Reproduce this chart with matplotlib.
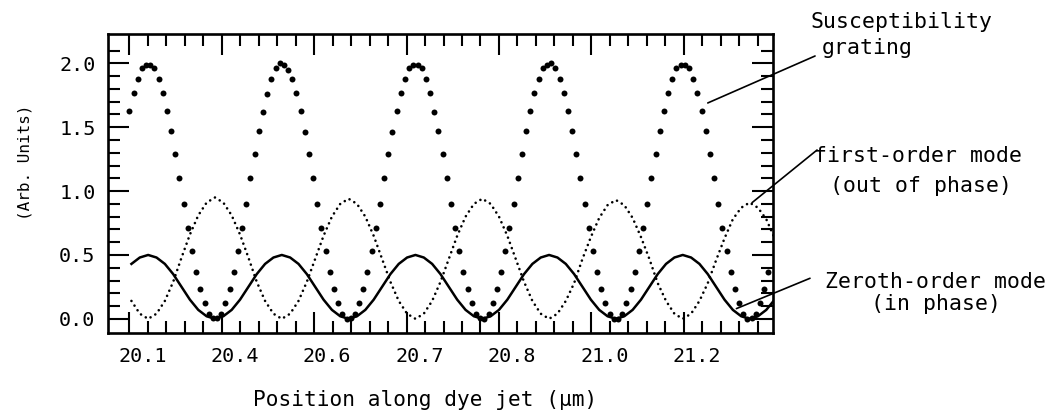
import numpy as np
import matplotlib.pyplot as plt
from matplotlib.ticker import FixedLocator, FormatStrFormatter
from matplotlib.transforms import ScaledTranslation

plt.rcParams['font.family'] = ['DejaVu Sans Mono', 'DejaVu Sans']

# major tick positions along the jet and the labels printed under them
tick_pos = [0, 1, 2, 3, 4, 5, 6]
tick_labels = ['20.1', '20.4', '20.6', '20.7', '20.8', '21.0', '21.2']

# susceptibility grating, one dot every grating_dx
grating_x0 = 0.0
grating_dx = 0.0452
grating = [
    1.63, 1.77, 1.88, 1.96, 1.99, 1.99, 1.96, 1.88, 1.77, 1.63, 1.47, 1.29, 1.10, 0.90, 0.71, 0.53,
    0.37, 0.23, 0.12, 0.04, 0.01, 0.01, 0.04, 0.12, 0.23, 0.37, 0.53, 0.71, 0.90, 1.10, 1.29, 1.47,
    1.62, 1.76, 1.88, 1.96, 2.00, 1.99, 1.95, 1.88, 1.77, 1.63, 1.46, 1.29, 1.10, 0.90, 0.71, 0.53,
    0.37, 0.23, 0.12, 0.04, 0.00, 0.01, 0.04, 0.12, 0.23, 0.37, 0.53, 0.71, 0.90, 1.10, 1.29, 1.46,
    1.63, 1.77, 1.88, 1.96, 1.99, 1.99, 1.96, 1.88, 1.77, 1.62, 1.47, 1.29, 1.10, 0.90, 0.71, 0.53,
    0.37, 0.23, 0.12, 0.04, 0.01, 0.00, 0.04, 0.12, 0.23, 0.37, 0.53, 0.71, 0.90, 1.10, 1.29, 1.47,
    1.63, 1.77, 1.88, 1.96, 1.99, 2.00, 1.96, 1.88, 1.77, 1.63, 1.47, 1.29, 1.10, 0.90, 0.71, 0.53,
    0.37, 0.23, 0.12, 0.04, 0.00, 0.00, 0.04, 0.12, 0.23, 0.37, 0.53, 0.71, 0.90, 1.10, 1.29, 1.47,
    1.63, 1.77, 1.88, 1.96, 1.99, 1.99, 1.96, 1.88, 1.77, 1.63, 1.47, 1.29, 1.10, 0.90, 0.71, 0.53,
    0.37, 0.23, 0.12, 0.04, 0.00, 0.01, 0.04, 0.12, 0.23, 0.37,
]

# mode intensities, sampled every mode_dx
mode_x0 = 0.0227
mode_dx = 0.0904
zeroth = [
    0.43, 0.48, 0.50, 0.48, 0.43, 0.35, 0.25, 0.15, 0.07, 0.02, 0.00, 0.02, 0.07, 0.15, 0.25, 0.35,
    0.43, 0.48, 0.50, 0.48, 0.43, 0.35, 0.25, 0.15, 0.07, 0.02, 0.00, 0.02, 0.07, 0.15, 0.25, 0.35,
    0.43, 0.48, 0.50, 0.48, 0.43, 0.35, 0.25, 0.15, 0.07, 0.02, 0.00, 0.02, 0.07, 0.15, 0.25, 0.35,
    0.43, 0.48, 0.50, 0.48, 0.43, 0.35, 0.25, 0.15, 0.07, 0.02, 0.00, 0.02, 0.07, 0.15, 0.25, 0.35,
    0.43, 0.48, 0.50, 0.48, 0.43, 0.35, 0.25, 0.15, 0.07, 0.02, 0.00, 0.02, 0.07, 0.15,
]
first = [
    0.14, 0.04, 0.00, 0.04, 0.14, 0.29, 0.48, 0.66, 0.81, 0.91, 0.95, 0.91, 0.81, 0.66, 0.48, 0.29,
    0.14, 0.04, 0.00, 0.04, 0.14, 0.29, 0.47, 0.65, 0.80, 0.90, 0.94, 0.90, 0.80, 0.65, 0.47, 0.29,
    0.14, 0.04, 0.00, 0.04, 0.14, 0.29, 0.47, 0.65, 0.80, 0.90, 0.94, 0.90, 0.80, 0.65, 0.47, 0.29,
    0.14, 0.04, 0.00, 0.04, 0.14, 0.28, 0.47, 0.64, 0.79, 0.89, 0.93, 0.89, 0.79, 0.64, 0.47, 0.28,
    0.14, 0.04, 0.00, 0.04, 0.14, 0.28, 0.46, 0.63, 0.78, 0.87, 0.91, 0.87, 0.78, 0.63,
]

fig = plt.figure(figsize=(10.51, 4.13), dpi=100)
ax = fig.add_axes([0.1028, 0.1937, 0.6327, 0.7240])

xg = grating_x0 + grating_dx * np.arange(len(grating))
xm = mode_x0 + mode_dx * np.arange(len(zeroth))

ax.plot(xm, first, color='black', lw=1.9, linestyle=(0, (0.01, 2.1)),
        dash_capstyle='round')
ax.plot(xm, zeroth, color='black', lw=1.8, solid_joinstyle='round')
ax.plot(xg, grating, 'o', color='black', ms=4.3, mew=0)

ax.set_xlim(-0.2305, 6.966)
ax.set_ylim(-0.111, 2.23)

ax.set_xticks(tick_pos, tick_labels)
ax.xaxis.set_minor_locator(FixedLocator(np.arange(0.2, 6.9, 0.2)))
ax.set_yticks(np.arange(0, 2.01, 0.5))
ax.yaxis.set_major_formatter(FormatStrFormatter('%.1f'))
ax.yaxis.set_minor_locator(FixedLocator(np.arange(0.1, 2.15, 0.1)))

ax.tick_params(which='both', direction='in', top=True, right=True,
               width=1.5, labelsize=14.5, colors='black')
ax.tick_params(which='major', length=15)
ax.tick_params(which='minor', length=8.5)
ax.tick_params(axis='x', pad=10)
ax.tick_params(axis='y', pad=9)
for s in ax.spines.values():
    s.set_linewidth(1.9)

# the printed x labels sit a little right of their ticks
shift = ScaledTranslation(0.13, 0, fig.dpi_scale_trans)
for lbl in ax.get_xticklabels():
    lbl.set_transform(lbl.get_transform() + shift)

ax.text(0.477, -0.2437, 'Position along dye jet (µm)', transform=ax.transAxes,
        ha='center', va='baseline', fontsize=15.2)
ax.text(-0.125, 0.5726, '(Arb. Units)', transform=ax.transAxes, rotation=90,
        ha='center', va='center', fontsize=11.5)

# curve labels with leader lines
fs = 15.5
fig.text(0.7707, 0.9322, 'Susceptibility', ha='left', va='baseline', fontsize=fs)
fig.text(0.7821, 0.8692, 'grating', ha='left', va='baseline', fontsize=fs)
fig.text(0.8730, 0.6077, 'first-order mode', ha='center', va='baseline', fontsize=fs)
fig.text(0.8763, 0.5351, '(out of phase)', ha='center', va='baseline', fontsize=fs)
fig.text(0.8901, 0.3027, 'Zeroth-order mode', ha='center', va='baseline', fontsize=fs)
fig.text(0.8906, 0.2494, '(in phase)', ha='center', va='baseline', fontsize=fs)

leader = dict(arrowstyle='-', lw=1.2, color='black', shrinkA=0, shrinkB=0)
ax.annotate('', xy=(6.26, 1.69), xytext=(0.7755, 0.8644),
            textcoords='figure fraction', arrowprops=leader)
ax.annotate('', xy=(6.74, 0.91), xytext=(0.7774, 0.6368),
            textcoords='figure fraction', arrowprops=leader)
ax.annotate('', xy=(6.57, 0.08), xytext=(0.7707, 0.3262),
            textcoords='figure fraction', arrowprops=leader)

fig.savefig('out.png', dpi=100)
